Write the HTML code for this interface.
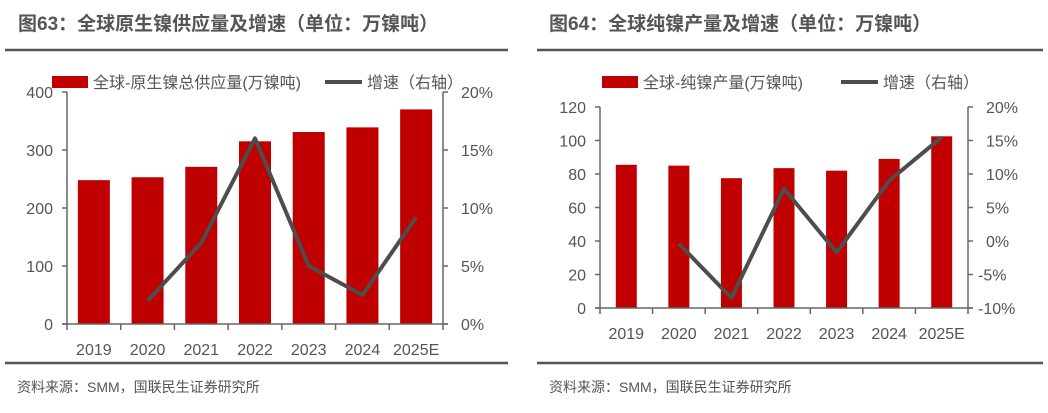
<!DOCTYPE html>
<html><head><meta charset="utf-8"><style>
body{margin:0;background:#fff;width:1048px;height:413px;overflow:hidden}
svg{display:block;font-family:"Liberation Sans","Noto Sans CJK SC",sans-serif}
</style></head><body>
<svg id="c" width="1048" height="413">
<text x="18" y="30" font-size="19" font-weight="bold" fill="#555">图63：全球原生镍供应量及增速（单位：万镍吨）</text>
<text x="549" y="30" font-size="19" font-weight="bold" fill="#555">图64：全球纯镍产量及增速（单位：万镍吨）</text>
<line x1="5" y1="50" x2="508" y2="50" stroke="#555" stroke-width="2.5"/>
<line x1="5" y1="363" x2="508" y2="363" stroke="#555" stroke-width="2.5"/>
<line x1="537" y1="50" x2="1043" y2="50" stroke="#555" stroke-width="2.5"/>
<line x1="537" y1="363" x2="1043" y2="363" stroke="#555" stroke-width="2.5"/>
<text x="17" y="392" font-size="14" fill="#555">资料来源：SMM，国联民生证券研究所</text>
<text x="549" y="392" font-size="14" fill="#555">资料来源：SMM，国联民生证券研究所</text>
</svg>
<script>
const categories=["2019","2020","2021","2022","2023","2024","2025E"];
const supplyValues=[248,253,271,315,331,339,370];
const supplyGrowth=[null,2.0,7.0,16.0,5.0,2.5,9.2];
const supplyLeftTicks=["0","100","200","300","400"];
const supplyRightTicks=["0%","5%","10%","15%","20%"];
const pureValues=[85.5,85,77.5,83.5,82,89,102.5];
const pureGrowth=[null,-0.4,-8.5,7.8,-1.7,9.0,15.5];
const pureLeftTicks=["0","20","40","60","80","100","120"];
const pureRightTicks=["-10%","-5%","0%","5%","10%","15%","20%"];
const svg=document.getElementById('c');
const NS='http://www.w3.org/2000/svg';
function mk(tag,attrs,parent){const e=document.createElementNS(NS,tag);for(const k in attrs)e.setAttribute(k,attrs[k]);(parent||svg).appendChild(e);return e;}
function draw(cfg){
  const g=mk('g',{});
  
  
  const {x0,x1,yTop,yBot,lmin,lmax,rmin,rmax,barW}=cfg;
  const yL=v=>yBot-(v-lmin)/(lmax-lmin)*(yBot-yTop);
  const yR=v=>yBot-(v-rmin)/(rmax-rmin)*(yBot-yTop);
  const step=(x1-x0)/categories.length;
  const xc=i=>x0+step*(i+0.5);
  cfg.values.forEach((v,i)=>{
    const r=mk('rect',{x:xc(i)-barW/2,y:yL(v),width:barW,height:yBot-yL(v),fill:'#c00000'},g);
    
    
  });
  // axes
  mk('line',{x1:x0,y1:yTop,x2:x0,y2:yBot,stroke:'#666','stroke-width':1.5},g);
  mk('line',{x1:x1,y1:yTop,x2:x1,y2:yBot,stroke:'#666','stroke-width':1.5},g);
  mk('line',{x1:x0-5,y1:yBot,x2:x1+5,y2:yBot,stroke:'#666','stroke-width':1.5},g);
  for(let i=0;i<=categories.length;i++){mk('line',{x1:x0+step*i,y1:yBot,x2:x0+step*i,y2:yBot+6,stroke:'#666','stroke-width':1.5},g);}
  cfg.lt.forEach(t=>{const v=parseFloat(t);const y=yL(v);
    mk('line',{x1:x0-5,y1:y,x2:x0,y2:y,stroke:'#666','stroke-width':1.5},g);
    const e=mk('text',{x:x0-14,y:y+6,'text-anchor':'end','font-size':16,fill:'#555'},g);e.textContent=t;
    });
  cfg.rt.forEach(t=>{const v=parseFloat(t);const y=yR(v);
    mk('line',{x1:x1,y1:y,x2:x1+5,y2:y,stroke:'#666','stroke-width':1.5},g);
    const e=mk('text',{x:x1+(v<0?10:18),y:y+6,'font-size':16,fill:'#555'},g);e.textContent=t;
    });
  categories.forEach((c,i)=>{const e=mk('text',{x:xc(i),y:yBot+31,'text-anchor':'middle','font-size':16,fill:'#555'},g);e.textContent=c;
    });
  const pts=[];cfg.growth.forEach((v,i)=>{if(v!==null)pts.push(xc(i)+','+yR(v));});
  const pl=mk('polyline',{points:pts.join(' '),fill:'none',stroke:'#4d4d4d','stroke-width':4,'stroke-linejoin':'round'},g);
  
  
  // legend
  const L=cfg.leg;
  const lr=mk('rect',{x:L.x,y:L.y-6,width:36,height:12,fill:'#c00000'},g);
  
  const t1=mk('text',{x:L.x+41,y:L.y+6,'font-size':16,fill:'#555'},g);t1.textContent=cfg.barLabel;
  
  mk('line',{x1:L.lx,y1:L.y,x2:L.lx+37,y2:L.y,stroke:'#4d4d4d','stroke-width':4},g);
  const t2=mk('text',{x:L.lx+42,y:L.y+6,'font-size':16,fill:'#555'},g);t2.textContent='增速（右轴）';
  
}
draw({id:'chart63',x0:67,x1:443,yTop:92,yBot:324,lmin:0,lmax:400,rmin:0,rmax:20,barW:32,values:supplyValues,growth:supplyGrowth,lt:supplyLeftTicks,rt:supplyRightTicks,barLabel:'全球-原生镍总供应量(万镍吨)',leg:{x:52,y:82,lx:325}});
draw({id:'chart64',x0:600,x1:968,yTop:107,yBot:308,lmin:0,lmax:120,rmin:-10,rmax:20,barW:21,values:pureValues,growth:pureGrowth,lt:pureLeftTicks,rt:pureRightTicks,barLabel:'全球-纯镍产量(万镍吨)',leg:{x:602,y:82,lx:841}});
</script>
</body></html>
